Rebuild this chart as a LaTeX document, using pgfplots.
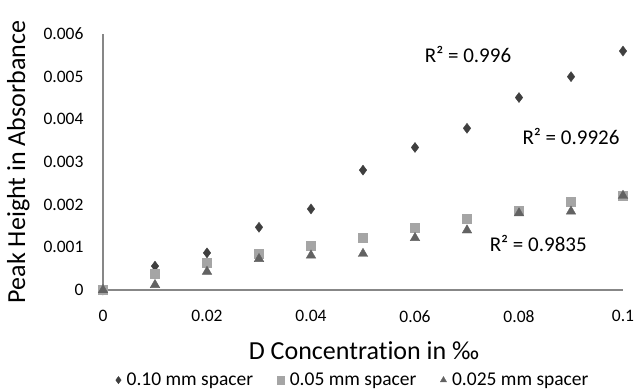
\documentclass[border=0pt]{standalone}
\usepackage{fontspec}
\setmainfont[Ligatures=NoCommon]{Carlito}
\usepackage{pgfplots}
\pgfplotsset{compat=1.18}
\definecolor{cdia}{HTML}{3F3F3F}
\definecolor{csq}{HTML}{A5A5A5}
\definecolor{ctri}{HTML}{626262}
\definecolor{caxis}{HTML}{878787}
\begin{document}
\begin{tikzpicture}
\path[use as bounding box] (-103pt,-101pt) rectangle (535pt,290pt);
\begin{axis}[
  at={(0,0)}, anchor=south west,
  scale only axis, width=520pt, height=256pt,
  xmin=0, xmax=0.1, ymin=0, ymax=0.006,
  axis x line=bottom, axis y line=left,
  axis line style={-, caxis, line width=1.6pt},
  xtick={0,0.02,0.04,0.06,0.08,0.1},
  ytick={0,0.001,0.002,0.003,0.004,0.005,0.006},
  major tick length=0pt,
  scaled x ticks=false, scaled y ticks=false,
  xticklabel style={/pgf/number format/fixed, /pgf/number format/precision=2, font=\fontsize{17.5}{20}\selectfont, yshift=-17pt},
  yticklabel style={/pgf/number format/fixed, /pgf/number format/fixed zerofill=false, /pgf/number format/precision=3, font=\fontsize{17.5}{20}\selectfont, xshift=-16pt},
  /pgf/number format/assume math mode=true,
  xlabel={D Concentration in ‰},
  ylabel={Peak Height in Absorbance},
  label style={font=\fontsize{26}{30}\selectfont},
  xlabel style={at={(axis description cs:0.502,-0.236)}, anchor=center},
  ylabel style={at={(axis description cs:-0.163,0.5)}, anchor=center},
  clip=false,
  legend columns=3,
  legend style={at={(axis description cs:0.481,-0.352)}, anchor=center, draw=none, fill=none, font=\fontsize{19.5}{22}\selectfont, inner sep=0pt,
    /tikz/every odd column/.append style={column sep=3.5pt},
    /tikz/every even column/.append style={column sep=22pt}},
  legend image code/.code={\draw[#1, mark size=3.6pt] plot coordinates {(0cm,0cm)};},
]
\addplot[only marks, mark=diamond*, mark size=5pt, color=cdia, mark options={fill=cdia, draw=cdia}] coordinates {
(0,0) (0.01,0.00056) (0.02,0.00087) (0.03,0.00147) (0.04,0.0019) (0.05,0.00281)
(0.06,0.00334) (0.07,0.00379) (0.08,0.00451) (0.09,0.005) (0.1,0.0056)};
\addlegendentry{0.10 mm spacer}
\addplot[only marks, mark=square*, mark size=4.5pt, color=csq, mark options={fill=csq, draw=csq}] coordinates {
(0,0) (0.01,0.00039) (0.02,0.00063) (0.03,0.00084) (0.04,0.00103) (0.05,0.00122)
(0.06,0.00147) (0.07,0.00166) (0.08,0.00186) (0.09,0.00207) (0.1,0.00221)};
\addlegendentry{0.05 mm spacer}
\addplot[only marks, mark=triangle*, mark size=5.5pt, color=ctri, mark options={fill=ctri, draw=ctri}] coordinates {
(0,0) (0.01,0.00012) (0.02,0.00043) (0.03,0.00073) (0.04,0.00081) (0.05,0.00085)
(0.06,0.00122) (0.07,0.0014) (0.08,0.0018) (0.09,0.00184) (0.1,0.00221)};
\addlegendentry{0.025 mm spacer}
\node[font=\fontsize{21}{24}\selectfont, anchor=center] at (axis cs:0.0702,0.00551) {R² = 0.996};
\node[font=\fontsize{21}{24}\selectfont, anchor=center] at (axis cs:0.0900,0.00359) {R² = 0.9926};
\node[font=\fontsize{21}{24}\selectfont, anchor=center] at (axis cs:0.0837,0.00108) {R² = 0.9835};
\end{axis}
\end{tikzpicture}
\end{document}
